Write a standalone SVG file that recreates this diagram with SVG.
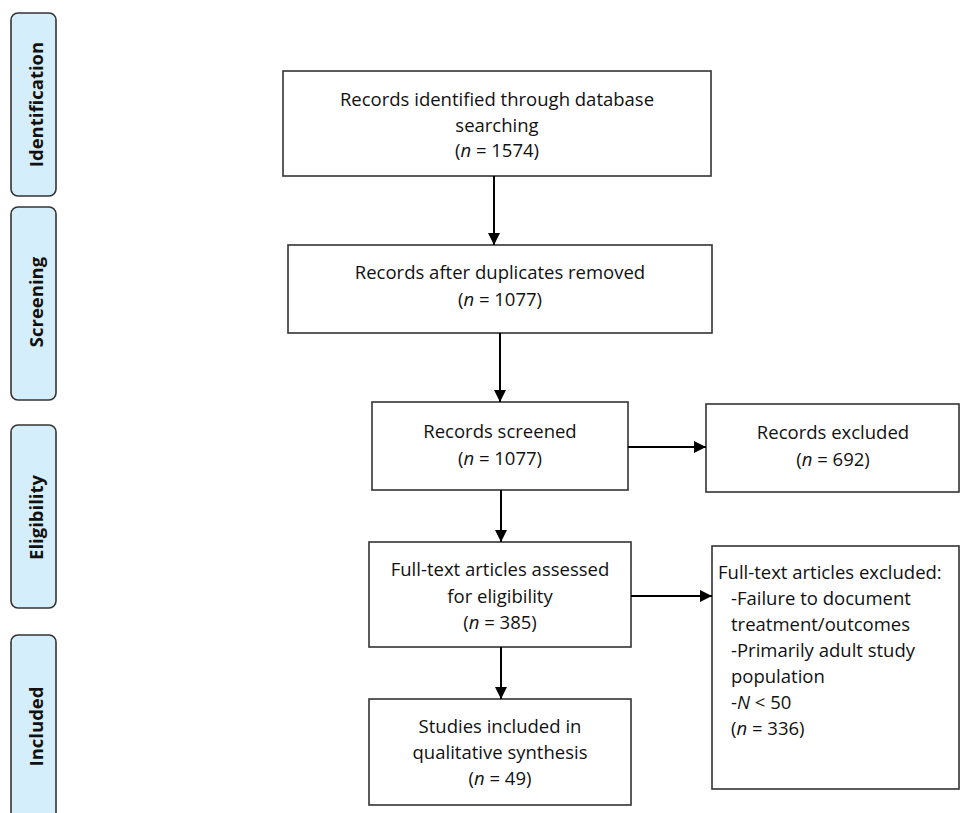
<svg xmlns="http://www.w3.org/2000/svg" width="961" height="813" viewBox="0 0 961 813">
<style>
.phase{fill:#d5eefc;stroke:#333;stroke-width:1.6}
.phase-t{font-family:"Open Sans","DejaVu Sans",sans-serif;font-weight:bold;font-size:18.5px;fill:#111;text-anchor:middle}
.box{fill:#fff;stroke:#333;stroke-width:1.6}
.t{font-family:"Open Sans","Noto Sans",sans-serif;font-size:18.5px;fill:#111;text-anchor:middle}
.tl{font-family:"Open Sans","Noto Sans",sans-serif;font-size:18.5px;fill:#111}
.i{font-style:italic}
.c{stroke:#000;stroke-width:2;fill:none;marker-end:url(#ah)}
</style>
<defs>
<marker id="ah" viewBox="0 0 12 12" refX="12" refY="6" markerWidth="12" markerHeight="12" markerUnits="userSpaceOnUse" orient="auto">
<path d="M0,0 L12,6 L0,12 z" fill="#000"/>
</marker>
</defs>
<rect width="961" height="813" fill="#fff"/>
<g id="phase-identification">
<rect class="phase" x="11" y="13" width="45" height="183" rx="7"/>
<text class="phase-t" transform="translate(43,104.5) rotate(-90)">Identification</text>
</g>
<g id="phase-screening">
<rect class="phase" x="11" y="207" width="45" height="193" rx="7"/>
<text class="phase-t" transform="translate(43,302) rotate(-90)">Screening</text>
</g>
<g id="phase-eligibility">
<rect class="phase" x="11" y="425" width="45" height="183" rx="7"/>
<text class="phase-t" transform="translate(43,517.5) rotate(-90)">Eligibility</text>
</g>
<g id="phase-included">
<rect class="phase" x="11" y="635" width="45" height="200" rx="7"/>
<text class="phase-t" transform="translate(43,726.5) rotate(-90)">Included</text>
</g>
<g id="n-identified">
<rect class="box" x="283" y="71" width="428" height="105"/>
<text class="t" x="497" y="106">Records identified through database</text>
<text class="t" x="497" y="132">searching</text>
<text class="t" x="497" y="157">(<tspan class="i">n</tspan> = 1574)</text>
</g>
<g id="n-deduplicated">
<rect class="box" x="288" y="245" width="424" height="88"/>
<text class="t" x="500" y="279">Records after duplicates removed</text>
<text class="t" x="500" y="306">(<tspan class="i">n</tspan> = 1077)</text>
</g>
<g id="n-screened">
<rect class="box" x="372" y="402" width="256" height="88"/>
<text class="t" x="500" y="438">Records screened</text>
<text class="t" x="500" y="465">(<tspan class="i">n</tspan> = 1077)</text>
</g>
<g id="n-excluded">
<rect class="box" x="706" y="404" width="253" height="88"/>
<text class="t" x="833" y="439">Records excluded</text>
<text class="t" x="833" y="466">(<tspan class="i">n</tspan> = 692)</text>
</g>
<g id="n-fulltext">
<rect class="box" x="369" y="542" width="262" height="105"/>
<text class="t" x="500" y="576">Full-text articles assessed</text>
<text class="t" x="500" y="603">for eligibility</text>
<text class="t" x="500" y="629">(<tspan class="i">n</tspan> = 385)</text>
</g>
<g id="n-fulltext-excluded">
<rect class="box" x="712" y="546" width="247" height="243"/>
<text class="tl" x="718" y="579">Full-text articles excluded:</text>
<text class="tl" x="731" y="605">-Failure to document</text>
<text class="tl" x="731" y="631">treatment/outcomes</text>
<text class="tl" x="731" y="657">-Primarily adult study</text>
<text class="tl" x="731" y="683">population</text>
<text class="tl" x="731" y="709">-<tspan class="i">N</tspan> &lt; 50</text>
<text class="tl" x="731" y="735">(<tspan class="i">n</tspan> = 336)</text>
</g>
<g id="n-included">
<rect class="box" x="369" y="699" width="262" height="106"/>
<text class="t" x="500" y="733">Studies included in</text>
<text class="t" x="500" y="759">qualitative synthesis</text>
<text class="t" x="500" y="785">(<tspan class="i">n</tspan> = 49)</text>
</g>
<g id="connectors">
<line class="c" x1="494" y1="176" x2="494" y2="245"/>
<line class="c" x1="500" y1="333" x2="500" y2="402"/>
<line class="c" x1="628" y1="447" x2="706" y2="447"/>
<line class="c" x1="501" y1="490" x2="501" y2="542"/>
<line class="c" x1="631" y1="596" x2="712" y2="596"/>
<line class="c" x1="501" y1="647" x2="501" y2="699"/>
</g>
</svg>
